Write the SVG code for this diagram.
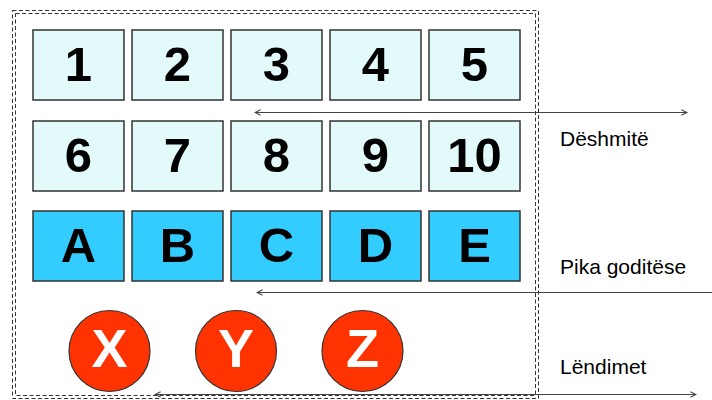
<svg xmlns="http://www.w3.org/2000/svg" width="712" height="400" viewBox="0 0 712 400">
<style>
.sq{fill:#E2FAF9;stroke:#333;stroke-width:1.5}
.bl{fill:#33CCFF;stroke:#333;stroke-width:1.5}
.ci{fill:#FF3300;stroke:#333;stroke-width:1.2}
.n{font-family:"Liberation Sans",Arial,sans-serif;font-weight:bold;font-size:49px;fill:#000;text-anchor:middle}
.w{font-family:"Liberation Sans",Arial,sans-serif;font-weight:bold;font-size:54px;fill:#fff;text-anchor:middle}
.lb{font-family:"Liberation Sans",Arial,sans-serif;font-size:21px;fill:#000}
.fr{fill:none;stroke:#333;stroke-width:1;stroke-dasharray:4 2.5}
.ar{fill:none;stroke:#444;stroke-width:1.2}
</style>
<defs>
<marker id="h" viewBox="0 0 10 10" refX="9" refY="5" markerWidth="7" markerHeight="7" orient="auto-start-reverse" markerUnits="userSpaceOnUse">
<path d="M1,1 L9,5 L1,9" fill="none" stroke="#444" stroke-width="1.5"/>
</marker>
</defs>
<rect width="712" height="400" fill="#fff"/>
<g id="frame">
<rect class="fr" x="12.5" y="10.5" width="526" height="388"/>
<rect class="fr" x="15.5" y="13.5" width="520" height="382"/>
</g>
<g id="n1"><rect class="sq" x="33" y="30" width="91" height="70"/><text class="n" x="78.5" y="81">1</text></g>
<g id="n2"><rect class="sq" x="132" y="30" width="91" height="70"/><text class="n" x="177.5" y="81">2</text></g>
<g id="n3"><rect class="sq" x="231" y="30" width="91" height="70"/><text class="n" x="276.5" y="81">3</text></g>
<g id="n4"><rect class="sq" x="330" y="30" width="91" height="70"/><text class="n" x="375.5" y="81">4</text></g>
<g id="n5"><rect class="sq" x="429" y="30" width="91" height="70"/><text class="n" x="474.5" y="81">5</text></g>
<g id="n6"><rect class="sq" x="33" y="121" width="91" height="70"/><text class="n" x="78.5" y="172">6</text></g>
<g id="n7"><rect class="sq" x="132" y="121" width="91" height="70"/><text class="n" x="177.5" y="172">7</text></g>
<g id="n8"><rect class="sq" x="231" y="121" width="91" height="70"/><text class="n" x="276.5" y="172">8</text></g>
<g id="n9"><rect class="sq" x="330" y="121" width="91" height="70"/><text class="n" x="375.5" y="172">9</text></g>
<g id="n10"><rect class="sq" x="429" y="121" width="91" height="70"/><text class="n" x="474.5" y="172">10</text></g>
<g id="nA"><rect class="bl" x="33" y="211" width="91" height="70"/><text class="n" x="78.5" y="262">A</text></g>
<g id="nB"><rect class="bl" x="132" y="211" width="91" height="70"/><text class="n" x="177.5" y="262">B</text></g>
<g id="nC"><rect class="bl" x="231" y="211" width="91" height="70"/><text class="n" x="276.5" y="262">C</text></g>
<g id="nD"><rect class="bl" x="330" y="211" width="91" height="70"/><text class="n" x="375.5" y="262">D</text></g>
<g id="nE"><rect class="bl" x="429" y="211" width="91" height="70"/><text class="n" x="474.5" y="262">E</text></g>
<g id="nX"><circle class="ci" cx="109.5" cy="351" r="40.5"/><text class="w" x="109.5" y="367">X</text></g>
<g id="nY"><circle class="ci" cx="236" cy="351" r="40.5"/><text class="w" x="236" y="367">Y</text></g>
<g id="nZ"><circle class="ci" cx="362.5" cy="351" r="40.5"/><text class="w" x="362.5" y="367">Z</text></g>
<g id="connectors">
<line class="ar" x1="255" y1="112.5" x2="687" y2="112.5" marker-start="url(#h)" marker-end="url(#h)"/>
<line class="ar" x1="713" y1="292.5" x2="257" y2="292.5" marker-end="url(#h)"/>
<line class="ar" x1="155" y1="394.5" x2="696" y2="394.5" marker-start="url(#h)" marker-end="url(#h)"/>
</g>
<g id="labels">
<text class="lb" x="560" y="146">Dëshmitë</text>
<text class="lb" x="560" y="274">Pika goditëse</text>
<text class="lb" x="560" y="374">Lëndimet</text>
</g>
</svg>
